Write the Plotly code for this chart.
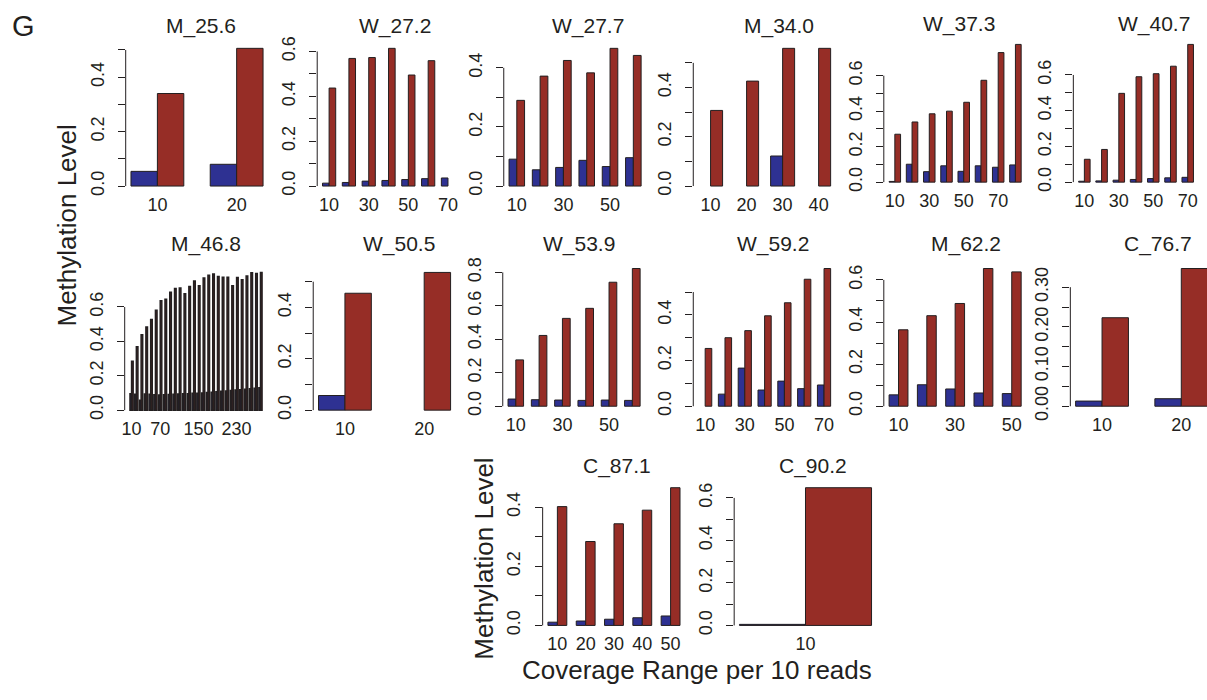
import plotly.graph_objects as go

W, H = 1207, 700
BLUE = "#2E3192"
RED = "#962D26"
INK = "#231F20"
FONT = "Liberation Sans, Arial, sans-serif"

# ---------------- data ----------------
titles = ["M_25.6", "W_27.2", "W_27.7", "M_34.0", "W_37.3", "W_40.7",
          "M_46.8", "W_50.5", "W_53.9", "W_59.2", "M_62.2", "C_76.7",
          "C_87.1", "C_90.2"]

m256_cov = [10, 20]
m256_blue = [0.054, 0.080]
m256_red = [0.340, 0.506]

w272_cov = [10, 20, 30, 40, 50, 60, 70]
w272_blue = [0.013, 0.016, 0.022, 0.025, 0.029, 0.033, 0.036]
w272_red = [0.437, 0.569, 0.573, 0.614, 0.495, 0.559, None]

w277_cov = [10, 20, 30, 40, 50, 60]
w277_blue = [0.091, 0.055, 0.063, 0.087, 0.066, 0.096]
w277_red = [0.290, 0.372, 0.425, 0.383, 0.466, 0.442]

m340_cov = [10, 20, 30, 40]
m340_blue = [None, None, 0.122, None]
m340_red = [0.307, 0.426, 0.559, 0.559]

w373_cov = [10, 20, 30, 40, 50, 60, 70, 80]
w373_blue = [0.004, 0.101, 0.059, 0.092, 0.061, 0.092, 0.084, 0.097]
w373_red = [0.270, 0.339, 0.385, 0.400, 0.450, 0.574, 0.730, 0.776]

w407_cov = [10, 20, 30, 40, 50, 60, 70]
w407_blue = [0.005, 0.007, 0.011, 0.015, 0.020, 0.024, 0.027]
w407_red = [0.128, 0.183, 0.497, 0.590, 0.607, 0.649, 0.771]

m468_cov = [10, 20, 30, 40, 50, 60, 70, 80, 90, 100, 110, 120, 130, 140,
            150, 160, 170, 180, 190, 200, 210, 220, 230, 240, 250, 260, 270, 280]
m468_blue = [0.095, 0.092, 0.057, 0.094, 0.092, 0.090, 0.088, 0.090, 0.091, 0.093,
             0.094, 0.095, 0.096, 0.098, 0.099, 0.100, 0.102, 0.104, 0.107, 0.110,
             0.112, 0.114, 0.117, 0.119, 0.122, 0.125, 0.128, 0.131]
m468_red = [0.284, 0.369, 0.439, 0.483, 0.527, 0.581, 0.637, 0.645, 0.686, 0.708,
            0.710, 0.677, 0.719, 0.751, 0.723, 0.769, 0.784, 0.792, 0.778, 0.773,
            0.773, 0.723, 0.771, 0.758, 0.780, 0.799, 0.795, 0.801]

w505_cov = [10, 20]
w505_blue = [0.057, None]
w505_red = [0.455, 0.536]

w539_cov = [10, 20, 30, 40, 50, 60]
w539_blue = [0.043, 0.039, 0.037, 0.035, 0.037, 0.035]
w539_red = [0.277, 0.423, 0.525, 0.585, 0.741, 0.823]

w592_cov = [10, 20, 30, 40, 50, 60, 70]
w592_blue = [None, 0.053, 0.167, 0.071, 0.110, 0.077, 0.093]
w592_red = [0.253, 0.300, 0.331, 0.396, 0.453, 0.556, 0.603]

m622_cov = [10, 20, 30, 40, 50]
m622_blue = [0.054, 0.102, 0.082, 0.063, 0.060]
m622_red = [0.363, 0.430, 0.488, 0.654, 0.638]

c767_cov = [10, 20]
c767_blue = [0.013, 0.019]
c767_red = [0.223, 0.347]

c871_cov = [10, 20, 30, 40, 50]
c871_blue = [0.011, 0.015, 0.021, 0.026, 0.032]
c871_red = [0.402, 0.284, 0.344, 0.390, 0.466]

c902_cov = [10]
c902_blue = [0.005]
c902_red = [0.648]

# x tick labels that are printed (others are dropped as in the original)
shown_x = [
    [10, 20], [10, 30, 50, 70], [10, 30, 50], [10, 20, 30, 40],
    [10, 30, 50, 70], [10, 30, 50, 70], [10, 70, 150, 230], [10, 20],
    [10, 30, 50], [10, 30, 50, 70], [10, 30, 50], [10, 20],
    [10, 20, 30, 40, 50], [10],
]
# y ticks: step, last tick, label every k-th tick, decimals
y_ticks = [
    (0.1, 0.5, 2, 1), (0.1, 0.6, 2, 1), (0.1, 0.4, 2, 1), (0.1, 0.5, 2, 1),
    (0.1, 0.6, 2, 1), (0.1, 0.6, 2, 1), (0.2, 0.6, 1, 1), (0.1, 0.5, 2, 1),
    (0.2, 0.8, 1, 1), (0.1, 0.5, 2, 1), (0.1, 0.6, 2, 1), (0.05, 0.30, 2, 2),
    (0.1, 0.4, 2, 1), (0.1, 0.6, 2, 1),
]

covs = [m256_cov, w272_cov, w277_cov, m340_cov, w373_cov, w407_cov, m468_cov,
        w505_cov, w539_cov, w592_cov, m622_cov, c767_cov, c871_cov, c902_cov]
blues = [m256_blue, w272_blue, w277_blue, m340_blue, w373_blue, w407_blue, m468_blue,
         w505_blue, w539_blue, w592_blue, m622_blue, c767_blue, c871_blue, c902_blue]
reds = [m256_red, w272_red, w277_red, m340_red, w373_red, w407_red, m468_red,
        w505_red, w539_red, w592_red, m622_red, c767_red, c871_red, c902_red]

# ---------------- layout (pixel geometry of each panel) ----------------
PW = 143  # plot width px
left_px = [123, 315, 502, 692, 883, 1073, 122, 311, 501, 692, 883, 1070, 541, 733]
zero_px = [184, 184, 184, 184, 180, 180, 413, 413, 409, 409, 409, 409, 633, 633]
title_xy = [(198, 20), (393, 20), (586, 20), (778, 20), (958, 18), (1154, 18),
            (204, 243), (397, 243), (577, 243), (772, 243), (965, 243), (1158, 243),
            (616, 470), (812, 470)]
n_slots = [2, 7, 6, 4, 8, 8, 28, 2, 6, 7, 5, 2, 5, 1]

fig = go.Figure()
shapes = []
annotations = []
layout = {}

for i in range(14):
    k = i + 1
    xa = "x" if k == 1 else f"x{k}"
    ya = "y" if k == 1 else f"y{k}"
    cats = [str(c) for c in covs[i]]
    lw = 1.5 if len(cats) > 20 else 1
    fig.add_trace(go.Bar(x=cats, y=blues[i], marker=dict(color=BLUE, line=dict(color=INK, width=lw)),
                         xaxis=xa, yaxis=ya, showlegend=False, hoverinfo="x+y"))
    fig.add_trace(go.Bar(x=cats, y=reds[i], marker=dict(color=RED, line=dict(color=INK, width=lw)),
                         xaxis=xa, yaxis=ya, showlegend=False, hoverinfo="x+y"))

    vals = [v for v in blues[i] + reds[i] if v is not None]
    m = max(vals)
    L = left_px[i]
    z = zero_px[i]
    unit = 152.0 / (1.08 * m)
    top = z - 1.04 * m * unit
    bot = z + 0.04 * m * unit

    n = n_slots[i]
    a = -1 / 3 - 0.04 * (n - 1 / 3)
    b = n - 2 / 3 + 0.04 * (n - 1 / 3)
    R = L + PW
    if R > W:
        b = a + (b - a) * (W - L) / PW
        R = W

    step, last, every, dec = y_ticks[i]
    nt = int(round(last / step)) + 1
    tv = [round(j * step, 4) for j in range(nt)]
    tt = [(f"{v:.{dec}f}" if j % every == 0 else "") for j, v in enumerate(tv)]

    xkey = "xaxis" if k == 1 else f"xaxis{k}"
    ykey = "yaxis" if k == 1 else f"yaxis{k}"
    layout[xkey] = dict(
        domain=[L / W, R / W], anchor=ya, type="category",
        categoryorder="array", categoryarray=cats,
        range=[a, b], showline=False, showgrid=False, zeroline=False,
        ticks="", tickmode="array", tickvals=[str(c) for c in shown_x[i]],
        ticktext=[str(c) for c in shown_x[i]],
        tickfont=dict(size=18, color=INK, family=FONT), fixedrange=True,
    )
    layout[ykey] = dict(
        domain=[1 - bot / H, 1 - top / H], anchor=xa,
        range=[-0.04 * m, 1.04 * m], showline=False, showgrid=False, zeroline=False,
        ticks="outside", ticklen=7, tickwidth=1, tickcolor=INK,
        tickmode="array", tickvals=tv, ticktext=tt, tickangle=-90,
        ticklabelstandoff=7,
        tickfont=dict(size=18, color=INK, family=FONT), fixedrange=True,
    )
    shapes.append(dict(type="line", xref=f"{xa} domain", yref=ya, x0=0, x1=0,
                       y0=tv[0], y1=tv[-1], line=dict(color=INK, width=1)))
    tx, ty = title_xy[i]
    annotations.append(dict(text=titles[i], x=tx / W, y=1 - ty / H, xref="paper", yref="paper",
                            xanchor="center", yanchor="middle", showarrow=False,
                            font=dict(size=21, color=INK, family=FONT)))

annotations += [
    dict(text="G", x=21 / W, y=1 - 20 / H, xref="paper", yref="paper", showarrow=False,
         xanchor="center", yanchor="middle", font=dict(size=29, color=INK, family=FONT)),
    dict(text="Methylation Level", x=64 / W, y=1 - 224.5 / H, xref="paper", yref="paper",
         showarrow=False, textangle=-90, xanchor="center", yanchor="middle",
         font=dict(size=26, color=INK, family=FONT)),
    dict(text="Methylation Level", x=482 / W, y=1 - 565 / H, xref="paper", yref="paper",
         showarrow=False, textangle=-90, xanchor="center", yanchor="middle",
         font=dict(size=26, color=INK, family=FONT)),
    dict(text="Coverage Range per 10 reads", x=695.8 / W, y=1 - 679 / H, xref="paper",
         yref="paper", showarrow=False, xanchor="center", yanchor="middle",
         font=dict(size=26, color=INK, family=FONT)),
]

fig.update_layout(
    width=W, height=H, margin=dict(l=0, r=0, t=0, b=0, pad=0), autosize=False,
    paper_bgcolor="white", plot_bgcolor="white",
    barmode="group", bargap=1 / 3, bargroupgap=0,
    showlegend=False, shapes=shapes, annotations=annotations,
    font=dict(family=FONT, color=INK),
    **layout,
)

page_css = (
    "var st=document.createElement('style');"
    "st.textContent='html,body{margin:0;padding:0;overflow:hidden;height:700px;width:1207px;}"
    "body>div{margin:0;padding:0;height:700px;width:1207px;overflow:hidden;line-height:0;font-size:0;}';"
    "document.head.appendChild(st);"
)

fig.write_html(
    "out.html",
    config={"displayModeBar": False, "responsive": False},
    post_script=page_css,
)
